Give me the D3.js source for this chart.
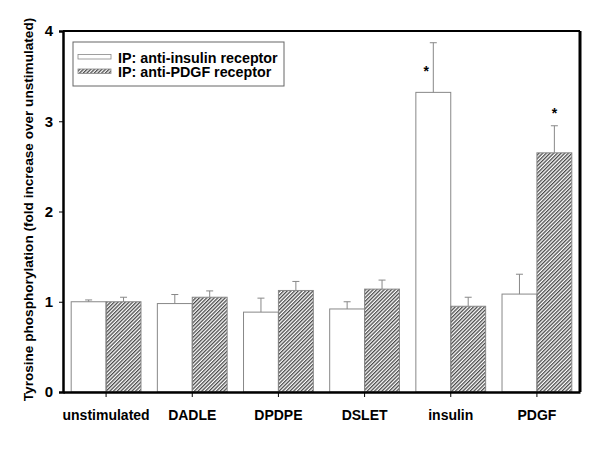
<!DOCTYPE html>
<html>
<head>
<meta charset="utf-8">
<script src="https://cdn.jsdelivr.net/npm/d3@7"></script>
<style>
  body { margin: 0; background: #fff; }
  text { font-family: Arial, "Liberation Sans", sans-serif; font-weight: bold; }
</style>
</head>
<body>
<svg id="chart" width="600" height="463"></svg>
<script>
const categories = ["unstimulated", "DADLE", "DPDPE", "DSLET", "insulin", "PDGF"];
const insulinIP = [1.0, 0.98, 0.885, 0.92, 3.32, 1.085];
const insulinErr = [0.02, 0.10, 0.155, 0.08, 0.55, 0.22];
const pdgfIP = [1.0, 1.05, 1.125, 1.14, 0.95, 2.65];
const pdgfErr = [0.05, 0.07, 0.10, 0.10, 0.10, 0.30];
const stars = [{ cat: "insulin", series: 0, value: 3.55 }, { cat: "PDGF", series: 1, value: 3.08 }];
const seriesNames = ["IP: anti-insulin receptor", "IP: anti-PDGF receptor"];
const yTicks = [0, 1, 2, 3, 4];

const svg = d3.select("#chart");
const margin = { top: 31, right: 20, bottom: 71, left: 63 };
const width = 600, height = 463;

const defs = svg.append("defs");
defs.append("pattern")
  .attr("id", "hatch")
  .attr("patternUnits", "userSpaceOnUse")
  .attr("width", 2.6).attr("height", 2.6)
  .attr("patternTransform", "rotate(45)")
  .append("rect").attr("width", 1.3).attr("height", 2.6).attr("fill", "#4a4a4a");

const x = d3.scaleBand().domain(categories)
  .range([margin.left, width - margin.right]).paddingInner(0.19).paddingOuter(0.095);
const xs = d3.scaleBand().domain([0, 1]).range([0, x.bandwidth()]);
const y = d3.scaleLinear().domain([0, 4]).range([height - margin.bottom, margin.top]);

const series = [
  { vals: insulinIP, errs: insulinErr, fill: "#fff" },
  { vals: pdgfIP, errs: pdgfErr, fill: "url(#hatch)" }
];

series.forEach((s, si) => {
  const g = svg.append("g");
  const d = categories.map((c, i) => ({ c, v: s.vals[i], e: s.errs[i] }));
  g.selectAll("rect").data(d).join("rect")
    .attr("x", (d) => x(d.c) + xs(si))
    .attr("y", (d) => y(d.v))
    .attr("width", xs.bandwidth())
    .attr("height", (d) => y(0) - y(d.v))
    .attr("fill", s.fill)
    .attr("stroke", "#888")
    .attr("stroke-width", 1);
  const cx = (d) => x(d.c) + xs(si) + xs.bandwidth() / 2;
  g.selectAll("line.err").data(d).join("line")
    .attr("class", "err")
    .attr("x1", cx).attr("x2", cx)
    .attr("y1", (d) => y(d.v)).attr("y2", (d) => y(d.v + d.e))
    .attr("stroke", "#888").attr("stroke-width", 1);
  g.selectAll("line.cap").data(d).join("line")
    .attr("class", "cap")
    .attr("x1", (d) => cx(d) - 3.5).attr("x2", (d) => cx(d) + 3.5)
    .attr("y1", (d) => y(d.v + d.e)).attr("y2", (d) => y(d.v + d.e))
    .attr("stroke", "#888").attr("stroke-width", 1);
});

// significance stars
svg.selectAll("text.star").data(stars).join("text")
  .attr("class", "star")
  .attr("x", (d) => x(d.cat) + xs(d.series) + xs.bandwidth() / 2 - (d.series === 0 ? 7 : 0))
  .attr("y", (d) => y(d.value) + 4)
  .attr("text-anchor", "middle")
  .attr("font-size", 14)
  .text("*");

// frame
svg.append("line").attr("x1", margin.left).attr("x2", width - margin.right)
  .attr("y1", margin.top).attr("y2", margin.top).attr("stroke", "#000").attr("stroke-width", 2);
svg.append("line").attr("x1", width - margin.right).attr("x2", width - margin.right)
  .attr("y1", margin.top).attr("y2", y(0)).attr("stroke", "#000").attr("stroke-width", 3);

// axes
const yAxis = svg.append("g")
  .attr("transform", `translate(${margin.left},0)`)
  .call(d3.axisLeft(y).tickValues(yTicks).tickFormat(d3.format("d")).tickSize(4).tickPadding(6));
yAxis.select(".domain").attr("stroke-width", 2.5);
yAxis.selectAll("text").attr("font-size", 15).attr("font-weight", "bold")
  .attr("font-family", "Arial, 'Liberation Sans', sans-serif");

const xAxis = svg.append("g")
  .attr("transform", `translate(0,${y(0)})`)
  .call(d3.axisBottom(x).tickSize(5).tickPadding(13).tickSizeOuter(0));
xAxis.select(".domain").attr("stroke-width", 2.5);
xAxis.selectAll("text").attr("font-size", 14).attr("font-weight", "bold")
  .attr("font-family", "Arial, 'Liberation Sans', sans-serif");

// y label
svg.append("text")
  .attr("transform", "rotate(-90)")
  .attr("x", -(margin.top + y(0)) / 2 + 2)
  .attr("y", 33)
  .attr("text-anchor", "middle")
  .attr("font-size", 13.6)
  .text("Tyrosine phosphorylation (fold increase over unstimulated)");

// legend
const legend = svg.append("g").attr("transform", "translate(73,42)");
legend.append("rect").attr("width", 211).attr("height", 44)
  .attr("fill", "#fff").attr("stroke", "#666").attr("stroke-width", 1);
seriesNames.forEach((n, i) => {
  legend.append("rect").attr("x", 5).attr("y", 12.5 + i * 14.5).attr("width", 33).attr("height", 4.5)
    .attr("fill", series[i].fill).attr("stroke", "#888").attr("stroke-width", 0.8);
  legend.append("text").attr("x", 45).attr("y", 20.5 + i * 14.5)
    .attr("font-size", 14.3).text(n);
});
</script>
</body>
</html>
